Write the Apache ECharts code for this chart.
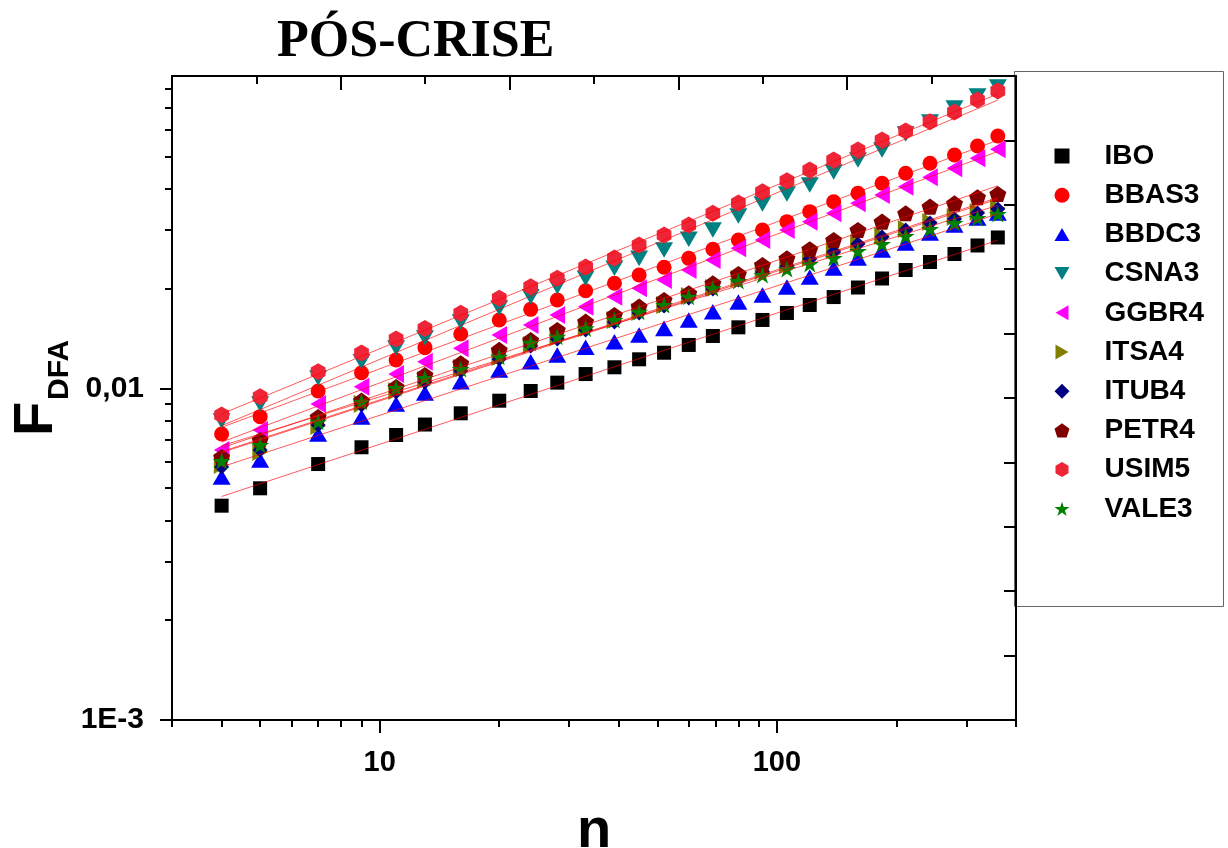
<!DOCTYPE html>
<html><head><meta charset="utf-8">
<script src="https://cdn.jsdelivr.net/npm/echarts@6/dist/echarts.min.js"></script>
<style>html,body{margin:0;padding:0;background:#fff}#c{width:1228px;height:848px}</style>
</head><body><div id="c"></div>
<script>
const nValues = [4,5,7,9,11,13,16,20,24,28,33,39,45,52,60,69,80,92,106,121,139,160,184,211,243,280,320,360];

const IBO   = [0.004427,0.004995,0.005911,0.006641,0.007232,0.007776,0.008407,0.009176,0.009814,0.0104,0.01104,0.01157,0.01223,0.0128,0.01351,0.01438,0.01527,0.01607,0.01687,0.01783,0.01884,0.02013,0.02143,0.02273,0.02403,0.0254,0.02695,0.02849];
const BBAS3 = [0.007283,0.008212,0.009814,0.01114,0.01217,0.01326,0.01458,0.01607,0.0173,0.01846,0.01969,0.02073,0.02196,0.02316,0.02465,0.02625,0.028,0.03001,0.0318,0.03408,0.03652,0.03871,0.0415,0.04448,0.04768,0.0505,0.05376,0.05763];
const BBDC3 = [0.005401,0.006078,0.007283,0.008195,0.008968,0.009678,0.01047,0.01136,0.01203,0.0126,0.01329,0.01382,0.01448,0.01516,0.01607,0.01702,0.0182,0.01911,0.0202,0.02165,0.02306,0.02471,0.02612,0.02742,0.02939,0.03108,0.03261,0.03377];
const CSNA3 = [0.007967,0.008968,0.01074,0.01203,0.01323,0.01418,0.01584,0.01746,0.01889,0.02025,0.02146,0.02301,0.02465,0.02612,0.02813,0.03001,0.03306,0.03594,0.03852,0.04102,0.04488,0.04879,0.05229,0.05845,0.06351,0.06998,0.07606,0.08097];
const GGBR4 = [0.006516,0.007485,0.008968,0.01011,0.01104,0.01203,0.0132,0.01448,0.01551,0.01663,0.01762,0.01889,0.02002,0.02121,0.02273,0.02437,0.02643,0.028,0.03001,0.0318,0.0337,0.03612,0.03825,0.04053,0.04326,0.04606,0.04936,0.05254];
const ITSA4 = [0.005873,0.006427,0.007695,0.008968,0.009814,0.01059,0.01151,0.01243,0.01351,0.01428,0.01519,0.01607,0.01698,0.01783,0.01898,0.02006,0.02136,0.02257,0.02353,0.02471,0.02612,0.02742,0.02879,0.03022,0.03173,0.03284,0.03401,0.03495];
const ITUB4 = [0.005791,0.006516,0.00775,0.008906,0.009746,0.01045,0.01128,0.01226,0.01341,0.01408,0.01499,0.01584,0.01687,0.01771,0.01872,0.01992,0.02121,0.02242,0.02337,0.02454,0.02576,0.02723,0.02858,0.03001,0.0315,0.03239,0.03377,0.0347];
const PETR4 = [0.006206,0.006984,0.008195,0.009176,0.01009,0.01097,0.0119,0.01305,0.01398,0.01499,0.01588,0.01663,0.01762,0.01846,0.01934,0.02073,0.02211,0.02353,0.02465,0.02625,0.028,0.03001,0.0318,0.0337,0.03528,0.03612,0.03766,0.03852];
const USIM5 = [0.008309,0.009434,0.01122,0.01278,0.01408,0.01514,0.01683,0.01867,0.02025,0.02146,0.02321,0.02471,0.02704,0.02899,0.03108,0.0337,0.03619,0.03913,0.04226,0.04551,0.04879,0.05229,0.05606,0.05967,0.06364,0.06808,0.07399,0.07876];
const VALE3 = [0.006036,0.006747,0.007931,0.009112,0.01002,0.01074,0.01143,0.01245,0.01372,0.01431,0.01516,0.01607,0.01702,0.01783,0.01889,0.02002,0.02106,0.02196,0.02289,0.0237,0.02471,0.02594,0.02723,0.02879,0.03022,0.0315,0.03261,0.03353];

const seriesNames = ['IBO','BBAS3','BBDC3','CSNA3','GGBR4','ITSA4','ITUB4','PETR4','USIM5','VALE3'];
const seriesValues = [IBO,BBAS3,BBDC3,CSNA3,GGBR4,ITSA4,ITUB4,PETR4,USIM5,VALE3];

const xMajorTicks = [10, 100];
const xMajorLabels = ['10', '100'];
const xMinorTicks = [3,4,5,6,7,8,9,20,30,40,50,60,70,80,90,200,300,400];
const yMajorTicks = [0.001, 0.01];
const yMajorLabels = ['1E-3', '0,01'];
const yMinorTicks = [0.002,0.003,0.004,0.005,0.006,0.007,0.008,0.009,0.02,0.03,0.04,0.05,0.06,0.07,0.08];

const titleText = 'PÓS-CRISE';
const xName = 'n';

const colors = ['#000000','#ff0000','#0000ff','#008080','#ff00ff','#808000','#000080','#800000','#ee2536','#008000'];
const symbols = [
  'rect',
  'circle',
  'path://M5,0L10,8.66L0,8.66Z',
  'path://M0,0L10,0L5,8.66Z',
  'path://M0,5L8.66,0L8.66,10Z',
  'path://M0,0L8.66,5L0,10Z',
  'diamond',
  'path://M50,0L97.55,34.55L79.39,90.45L20.61,90.45L2.45,34.55Z',
  'path://M50,0L93.3,25L93.3,75L50,100L6.7,75L6.7,25Z',
  'path://M50,0L61.23,34.55L97.55,34.55L68.17,55.9L79.39,90.45L50,69.1L20.61,90.45L31.83,55.9L2.45,34.55L38.77,34.55Z'
];
const sizes = [14,15,18,18,18,18,15,17,17,18];

function fitLine(ys) {
  const X = nValues.map(Math.log10), Y = ys.map(Math.log10);
  const m = X.length;
  const mx = X.reduce((a,b)=>a+b,0)/m, my = Y.reduce((a,b)=>a+b,0)/m;
  let sxy=0, sxx=0;
  for (let i=0;i<m;i++){ sxy += (X[i]-mx)*(Y[i]-my); sxx += (X[i]-mx)*(X[i]-mx); }
  const a = sxy/sxx, b = my - a*mx;
  const x0 = nValues[0], x1 = nValues[m-1];
  return [[x0, Math.pow(10, b + a*Math.log10(x0))], [x1, Math.pow(10, b + a*Math.log10(x1))]];
}

const FONT = 'Liberation Sans';
const series = [];
seriesNames.forEach((nm, i) => {
  series.push({
    name: nm, type: 'scatter', xAxisIndex: 0, yAxisIndex: 0,
    symbol: symbols[i], symbolSize: sizes[i], symbolKeepAspect: true,
    itemStyle: { color: colors[i], opacity: 1 },
    data: nValues.map((n, k) => [n, seriesValues[i][k]]),
    z: 2, silent: true
  });
});
seriesValues.forEach((vals, i) => {
  series.push({
    name: 'fit' + i, type: 'line', xAxisIndex: 0, yAxisIndex: 0,
    data: fitLine(vals), symbol: 'none', silent: true,
    lineStyle: { color: '#ff0000', width: 1, opacity: 0.65 },
    z: 3
  });
});

const chart = echarts.init(document.getElementById('c'), null, { renderer: 'canvas' });
chart.setOption({
  animation: false,
  backgroundColor: '#ffffff',
  title: {
    text: titleText, left: 277, top: 17, padding: 0,
    textStyle: { fontFamily: 'Liberation Serif', fontWeight: 'bold', fontSize: 52, color: '#000' }
  },
  legend: {
    orient: 'vertical', left: 1054.5, top: 141, padding: 0,
    itemWidth: 15, itemHeight: 15, itemGap: 9.2,
    data: seriesNames, selectedMode: false, symbolKeepAspect: true,
    textStyle: { fontFamily: FONT, fontWeight: 'bold', fontSize: 28, color: '#000', lineHeight: 30, padding: [0,0,0,30] }
  },
  graphic: [{
    type: 'rect', shape: { x: 1014.5, y: 71.5, width: 209, height: 535 },
    style: { fill: 'none', stroke: '#666', lineWidth: 1 }, z: 0, silent: true
  }],
  grid: { left: 172, right: 212, top: 76, bottom: 128, containLabel: false, outerBoundsMode: 'none' },
  xAxis: [
    {
      type: 'log', logBase: 10, min: 3, max: 400, position: 'bottom',
      axisLine: { show: true, lineStyle: { color: '#000', width: 2 } },
      axisTick: { show: true, customValues: xMajorTicks, length: 13, inside: false, lineStyle: { color: '#000', width: 2 } },
      axisLabel: {
        show: true, customValues: xMajorTicks, margin: 28,
        formatter: v => { const k = xMajorTicks.findIndex(t => Math.abs(t - v) / t < 1e-6); return k >= 0 ? xMajorLabels[k] : ''; },
        fontFamily: FONT, fontWeight: 'bold', fontSize: 29, color: '#000'
      },
      splitLine: { show: false },
      name: xName, nameLocation: 'middle', nameGap: 84, nameMoveOverlap: false,
      nameTextStyle: { fontFamily: FONT, fontWeight: 'bold', fontSize: 56, color: '#000' }
    },
    {
      type: 'log', logBase: 10, min: 3, max: 400, position: 'bottom',
      axisLine: { show: false },
      axisTick: { show: true, customValues: xMinorTicks, length: 7, inside: false, lineStyle: { color: '#000', width: 2 } },
      axisLabel: { show: false }, splitLine: { show: false }
    },
    {
      type: 'value', min: 0, max: 10, interval: 2, position: 'top',
      axisLine: { show: true, lineStyle: { color: '#000', width: 2 } },
      axisTick: { show: true, inside: true, length: 14, lineStyle: { color: '#000', width: 2 } },
      axisLabel: { show: false }, splitLine: { show: false }
    },
    {
      type: 'value', min: 0, max: 10, interval: 1, position: 'top',
      axisLine: { show: false },
      axisTick: { show: true, inside: true, length: 8, lineStyle: { color: '#000', width: 2 } },
      axisLabel: { show: false }, splitLine: { show: false }
    }
  ],
  yAxis: [
    {
      type: 'log', logBase: 10, min: 0.001, max: 0.0874, position: 'left',
      axisLine: { show: true, lineStyle: { color: '#000', width: 2 } },
      axisTick: { show: true, customValues: yMajorTicks, length: 12, inside: false, lineStyle: { color: '#000', width: 2 } },
      axisLabel: {
        show: true, customValues: yMajorTicks, margin: 28,
        formatter: v => { const k = yMajorTicks.findIndex(t => Math.abs(t - v) / t < 1e-6); return k >= 0 ? yMajorLabels[k] : ''; },
        fontFamily: FONT, fontWeight: 'bold', fontSize: 30, color: '#000'
      },
      splitLine: { show: false },
      name: '{f|F}{s|DFA}', nameLocation: 'middle', nameRotate: 90, nameGap: 107, nameMoveOverlap: false,
      nameTextStyle: {
        padding: [0, 0, 0, 20],
        rich: {
          f: { fontFamily: FONT, fontWeight: 'bold', fontSize: 56, lineHeight: 56, verticalAlign: 'top', color: '#000' },
          s: { fontFamily: FONT, fontWeight: 'bold', fontSize: 30, lineHeight: 30, verticalAlign: 'top', padding: [36,0,0,2], color: '#000' }
        }
      }
    },
    {
      type: 'log', logBase: 10, min: 0.001, max: 0.0874, position: 'left',
      axisLine: { show: false },
      axisTick: { show: true, customValues: yMinorTicks, length: 7, inside: false, lineStyle: { color: '#000', width: 2 } },
      axisLabel: { show: false }, splitLine: { show: false }
    },
    {
      type: 'value', min: 0, max: 10, interval: 1, position: 'right',
      axisLine: { show: true, lineStyle: { color: '#000', width: 2 } },
      axisTick: { show: true, inside: true, length: 12, lineStyle: { color: '#000', width: 2 } },
      axisLabel: { show: false }, splitLine: { show: false }
    }
  ],
  series: series
});
</script>
</body></html>
